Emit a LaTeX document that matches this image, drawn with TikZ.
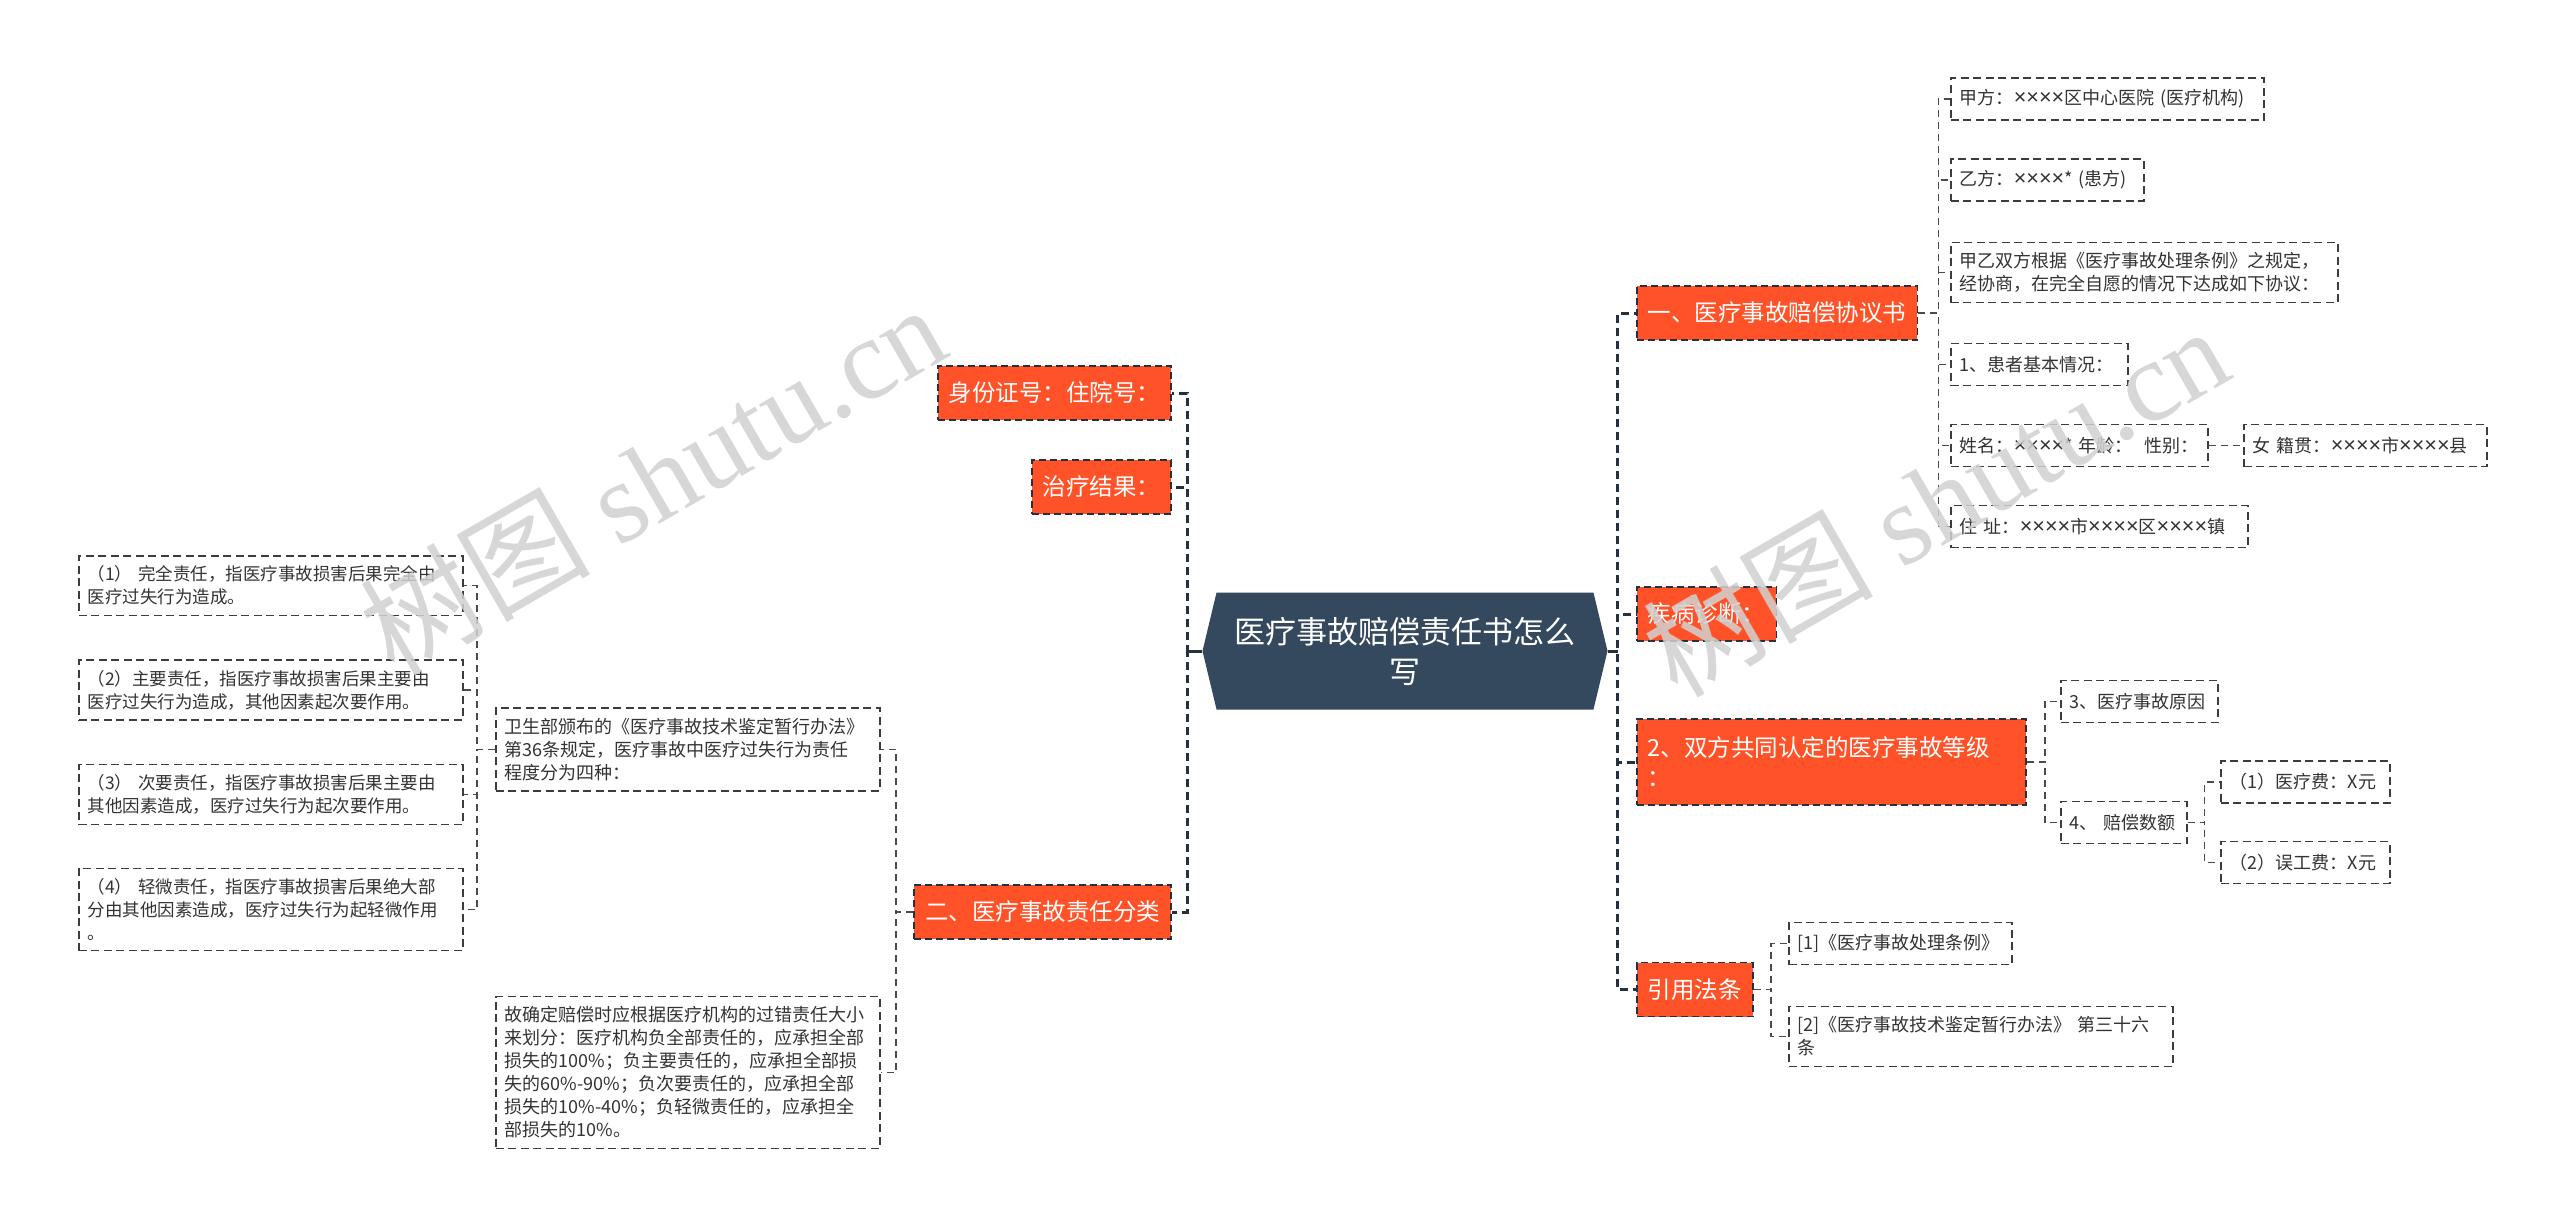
\documentclass[tikz,border=0pt]{standalone}
\usepackage{fontspec}
\setmainfont{Noto Sans CJK SC}
\newfontfamily\wmserif{Liberation Serif}
\newfontfamily\wmcjk{Noto Sans CJK SC}
\newfontfamily\latinsans[Scale=1.2]{Liberation Sans}
\usetikzlibrary{shapes.symbols}

\definecolor{orangebox}{HTML}{FF5228}
\definecolor{rootfill}{HTML}{34495E}
\definecolor{trunkcol}{HTML}{24313E}
\definecolor{boxline}{HTML}{3C3C3C}
\definecolor{linecol}{HTML}{4A4A4A}
\definecolor{txt}{HTML}{333333}
\newcommand{\fsz}[2]{\fontsize{#1}{#2}\selectfont}
\newcommand{\xx}{{\latinsans ×}}

\begin{document}
\begin{tikzpicture}[
  x=1pt, y=-1pt,
  root/.style={shape=signal, signal to=west and east, signal pointer angle=153,
    fill=rootfill, text=white, font=\fsz{31}{40}, align=center,
    minimum width=405pt, minimum height=117pt, inner sep=0pt},
  branch/.style={rectangle, fill=orangebox, draw=trunkcol, line width=1.8pt,
    dash pattern=on 7pt off 4pt, text=white, font=\fsz{23.5}{30},
    inner xsep=11pt, inner ysep=8pt, minimum height=54pt},
  leaf/.style={rectangle, fill=white, draw=boxline, line width=1.5pt,
    dash pattern=on 8pt off 4.5pt, text=txt, font=\fsz{18}{23}, align=left,
    inner xsep=9pt, inner ysep=10pt, minimum height=42pt, anchor=west},
  small/.style={font=\fsz{17.5}{23}},
  trunk/.style={draw=trunkcol, line width=3pt, dash pattern=on 8pt off 5pt},
  stem/.style={draw=trunkcol, line width=3pt},
  link/.style={draw=linecol, line width=1.6pt, dash pattern=on 7pt off 5pt},
  wmark/.style={text=black!18, opacity=0.85, font=\wmserif\fsz{115}{115}, inner sep=0pt}
]
\fill[white] (0,0) rectangle (2560,1231);
\useasboundingbox (0,0) rectangle (2560,1231);

\node[root] (root) at (1405,651) {医疗事故赔偿责任书怎么\\写};

% left side
\node[branch, anchor=east] (sfz) at (1172,393) {身份证号：住院号：};
\node[branch, anchor=east] (zljg) at (1172,487) {治疗结果：};
\node[branch, anchor=east] (zrfl) at (1172,912) {二、医疗事故责任分类};

\node[leaf, text width=366pt] (wsb) at (495,749.5) {卫生部颁布的《医疗事故技术鉴定暂行办法》\\第36条规定，医疗事故中医疗过失行为责任\\程度分为四种：};
\node[leaf, text width=366pt] (gqd) at (495,1072.5) {故确定赔偿时应根据医疗机构的过错责任大小\\来划分：医疗机构负全部责任的，应承担全部\\损失的100\%；负主要责任的，应承担全部损\\失的60\%-90\%；负次要责任的，应承担全部\\损失的10\%-40\%；负轻微责任的，应承担全\\部损失的10\%。};

\node[leaf, small, text width=366pt] (zr1) at (78,585.5) {（1） 完全责任，指医疗事故损害后果完全由\\医疗过失行为造成。};
\node[leaf, small, text width=366pt] (zr2) at (78,690) {（2）主要责任，指医疗事故损害后果主要由\\医疗过失行为造成，其他因素起次要作用。};
\node[leaf, small, text width=366pt] (zr3) at (78,794.5) {（3） 次要责任，指医疗事故损害后果主要由\\其他因素造成，医疗过失行为起次要作用。};
\node[leaf, small, text width=366pt] (zr4) at (78,909.5) {（4） 轻微责任，指医疗事故损害后果绝大部\\分由其他因素造成，医疗过失行为起轻微作用\\。};

% right side
\node[branch, anchor=west] (xys) at (1636,313) {一、医疗事故赔偿协议书};
\node[branch, anchor=west] (jbzd) at (1636,614) {疾病诊断：};
\node[branch, anchor=west, text width=367pt, align=left, minimum height=86pt] (dj) at (1636,762) {2、双方共同认定的医疗事故等级\\：};
\node[branch, anchor=west] (yyft) at (1636,989.5) {引用法条};

\node[leaf, text width=295pt] (jf) at (1950,99) {甲方：\xx\xx\xx\xx{}区中心医院~(医疗机构)};
\node[leaf, text width=175pt] (yf) at (1950,180) {乙方：\xx\xx\xx\xx*~(患方)};
\node[leaf, text width=369pt] (xy) at (1950,272.5) {甲乙双方根据《医疗事故处理条例》之规定，\\经协商，在完全自愿的情况下达成如下协议：};
\node[leaf, text width=159pt] (hz) at (1950,364.5) {1、患者基本情况：};
\node[leaf, text width=239pt] (xm) at (1950,445.5) {姓名：\xx\xx\xx\xx*~年龄：~~性别：};
\node[leaf, text width=225pt] (jg) at (2243,445.5) {女~籍贯：\xx\xx\xx\xx{}市\xx\xx\xx\xx{}县};
\node[leaf, text width=279pt] (zz) at (1950,526.5) {住~址：\xx\xx\xx\xx{}市\xx\xx\xx\xx{}区\xx\xx\xx\xx{}镇};

\node[leaf, text width=139pt] (yy) at (2060,701.5) {3、医疗事故原因};
\node[leaf, text width=108pt] (pc) at (2060,822.5) {4、~赔偿数额};
\node[leaf, text width=151pt] (ylf) at (2220,782) {（1）医疗费：X元};
\node[leaf, text width=151pt] (wgf) at (2220,862.5) {（2）误工费：X元};

\node[leaf, text width=205pt] (tl1) at (1788,943.5) {[1]《医疗事故处理条例》};
\node[leaf, text width=366pt] (tl2) at (1788,1036.5) {[2]《医疗事故技术鉴定暂行办法》 第三十六\\条};

% connectors
\foreach \n in {sfz,zljg,zrfl}
  \draw[trunk] (root.west) -- ++(-15,0) |- (\n.east);
\foreach \n in {xys,jbzd,dj,yyft}
  \draw[trunk] (root.east) -- ++(10,0) |- (\n.west);
\draw[stem] (root.west) -- ++(-15,0);
\draw[stem] (root.east) -- ++(10,0);

\foreach \n in {wsb,gqd}
  \draw[link] (zrfl.west) -- ++(-17,0) |- (\n.east);
\foreach \n in {zr1,zr2,zr3,zr4}
  \draw[link] (wsb.west) -- ++(-18,0) |- (\n.east);
\foreach \n in {jf,yf,xy,hz,xm,zz}
  \draw[link] (xys.east) -- ++(20,0) |- (\n.west);
\draw[link] (xm.east) -- (jg.west);
\foreach \n in {yy,pc}
  \draw[link] (dj.east) -- ++(18,0) |- (\n.west);
\foreach \n in {ylf,wgf}
  \draw[link] (pc.east) -- ++(17,0) |- (\n.west);
\foreach \n in {tl1,tl2}
  \draw[link] (yyft.east) -- ++(17,0) |- (\n.west);

% watermark
\node[wmark, rotate=30] (wm1) at (652,478) {{\wmcjk 树图} shutu.cn};
\node[wmark, rotate=30] (wm2) at (1935,500) {{\wmcjk 树图} shutu.cn};
\end{tikzpicture}
\end{document}
